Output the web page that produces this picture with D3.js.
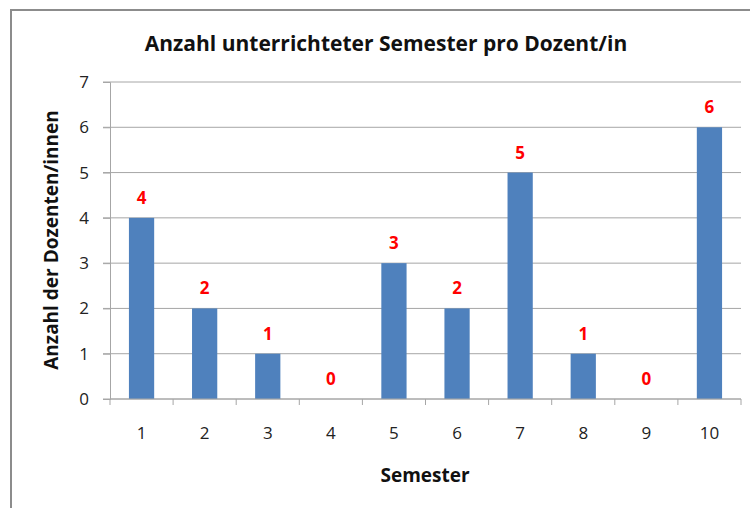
<!DOCTYPE html>
<html>
<head>
<meta charset="utf-8">
<script src="https://cdn.jsdelivr.net/npm/d3@7"></script>
<style>
  body { margin: 0; background: #fff; }
  text { font-family: "Open Sans", sans-serif; }
</style>
</head>
<body>
<svg id="chart"></svg>
<script>
var semesters = ["1", "2", "3", "4", "5", "6", "7", "8", "9", "10"];
var dozenten = [4, 2, 1, 0, 3, 2, 5, 1, 0, 6];
var yTicks = [0, 1, 2, 3, 4, 5, 6, 7];

var svg = d3.select("#chart")
    .attr("width", 750)
    .attr("height", 508);

// chart frame
svg.append("rect")
    .attr("x", 11).attr("y", 10)
    .attr("width", 760).attr("height", 520)
    .attr("fill", "#fff")
    .attr("stroke", "#8c8c8c")
    .attr("stroke-width", 2);

var margin = {top: 82, right: 9, bottom: 109, left: 110},
    width = 750 - margin.left - margin.right,
    height = 508 - margin.top - margin.bottom;

var x = d3.scaleBand().domain(semesters).range([0, width]).paddingInner(0.6).paddingOuter(0.3),
    y = d3.scaleLinear().domain([0, 7]).range([height, 0]);

var g = svg.append("g")
    .attr("transform", "translate(" + margin.left + "," + margin.top + ")");

// gridlines
g.selectAll(".grid")
  .data(yTicks)
  .enter().append("line")
    .attr("x1", -7).attr("x2", width)
    .attr("y1", function(d) { return y(d); })
    .attr("y2", function(d) { return y(d); })
    .attr("stroke", "#a6a6a6")
    .attr("stroke-width", 1);

// y axis
var yaxis = g.append("g")
    .call(d3.axisLeft(y).tickValues(yTicks).tickFormat(d3.format("d")).tickSize(7).tickPadding(14));
yaxis.select(".domain").attr("stroke", "#a6a6a6");
yaxis.selectAll(".tick line").attr("stroke", "#a6a6a6");
yaxis.selectAll(".tick text")
    .attr("font-size", 17)
    .attr("fill", "#222")
    .style("font-family", "'Open Sans', sans-serif");

// bars
g.selectAll(".bar")
  .data(dozenten)
  .enter().append("rect")
    .attr("class", "bar")
    .attr("x", function(d, i) { return x(semesters[i]); })
    .attr("y", function(d) { return y(d); })
    .attr("width", x.bandwidth())
    .attr("height", function(d) { return height - y(d); })
    .attr("fill", "#4f81bd");

// data labels
g.selectAll(".lbl")
  .data(dozenten)
  .enter().append("text")
    .attr("x", function(d, i) { return x(semesters[i]) + x.bandwidth() / 2; })
    .attr("y", function(d) { return y(d) - 14; })
    .attr("text-anchor", "middle")
    .attr("font-size", 17)
    .attr("font-weight", "bold")
    .attr("fill", "#ff0000")
    .text(function(d) { return d; });

// x axis, ticks between categories
var step = width / semesters.length;
var xaxis = g.append("g")
    .attr("transform", "translate(0," + height + ")");
xaxis.append("line")
    .attr("x1", 0).attr("x2", width)
    .attr("stroke", "#a6a6a6");
xaxis.selectAll(".xt")
  .data(d3.range(semesters.length + 1))
  .enter().append("line")
    .attr("x1", function(i) { return i * step; })
    .attr("x2", function(i) { return i * step; })
    .attr("y1", 0).attr("y2", 6)
    .attr("stroke", "#a6a6a6");
xaxis.selectAll(".xl")
  .data(semesters)
  .enter().append("text")
    .attr("x", function(d) { return x(d) + x.bandwidth() / 2; })
    .attr("y", 40)
    .attr("text-anchor", "middle")
    .attr("font-size", 17)
    .attr("fill", "#222")
    .text(function(d) { return d; });

// titles
svg.append("text")
    .attr("x", 386).attr("y", 51)
    .attr("text-anchor", "middle")
    .attr("font-size", 21)
    .attr("font-weight", "bold")
    .attr("fill", "#111")
    .text("Anzahl unterrichteter Semester pro Dozent/in");

svg.append("text")
    .attr("x", 425).attr("y", 482)
    .attr("text-anchor", "middle")
    .attr("font-size", 19)
    .attr("font-weight", "bold")
    .attr("fill", "#111")
    .text("Semester");

svg.append("text")
    .attr("transform", "translate(58,240) rotate(-90)")
    .attr("text-anchor", "middle")
    .attr("font-size", 19)
    .attr("font-weight", "bold")
    .attr("fill", "#111")
    .text("Anzahl der Dozenten/innen");
</script>
</body>
</html>
